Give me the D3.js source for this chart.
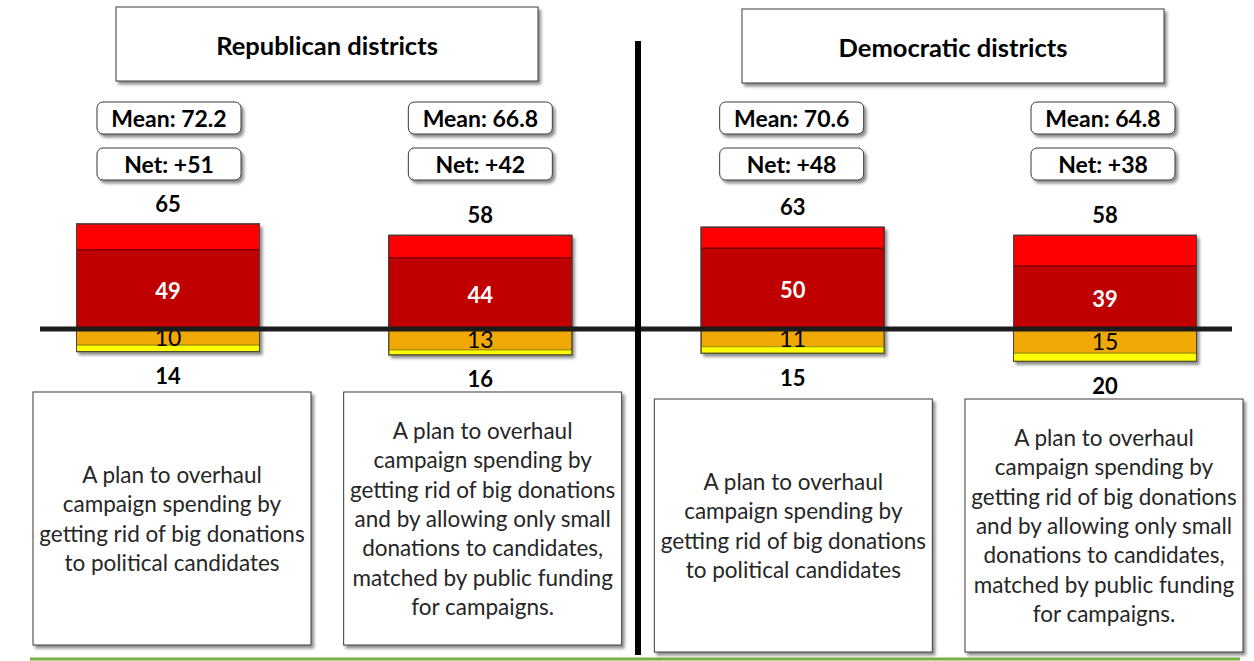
<!DOCTYPE html>
<html>
<head>
<meta charset="utf-8">
<script src="https://cdn.jsdelivr.net/npm/d3@7"></script>
<style>
  html, body { margin: 0; padding: 0; background: #fff; }
  svg { display: block; font-family: Lato, "Open Sans", sans-serif; }
</style>
</head>
<body>
<svg id="chart" width="1254" height="661"></svg>
<script>
// values
const groups = ['Republican districts', 'Democratic districts'];
const items = ['r1', 'r2', 'd1', 'd2'];
const strongSupport = [49, 44, 50, 39];
const someSupport = [16, 14, 13, 19];
const someOppose = [10, 13, 11, 15];
const strongOppose = [4, 3, 4, 5];
const means = ['72.2', '66.8', '70.6', '64.8'];
const nets = ['+51', '+42', '+48', '+38'];
const shortText = ['A plan to overhaul', 'campaign spending by', 'getting rid of big donations', 'to political candidates'];
const longText = ['A plan to overhaul', 'campaign spending by', 'getting rid of big donations',
  'and by allowing only small', 'donations to candidates,', 'matched by public funding', 'for campaigns.'];
const descriptions = [shortText, longText, shortText, longText];

const svg = d3.select('#chart');

// shadow filter
const defs = svg.append('defs');
defs.append('filter').attr('id', 'shadow')
    .attr('x', '-10%').attr('y', '-10%').attr('width', '130%').attr('height', '130%')
  .append('feDropShadow')
    .attr('dx', 2.5).attr('dy', 3).attr('stdDeviation', 1.8)
    .attr('flood-color', '#000').attr('flood-opacity', 0.45);

const x = d3.scalePoint().domain(items).range([168, 1105]);
const xPill = d3.scalePoint().domain(items).range([169, 1103]);
const xBox = d3.scalePoint().domain(items).range([172, 1104]);
const y = d3.scaleLinear().domain([-20, 65]).range([329 + 20 * 1.615, 224]);
const barW = 183;

const data = items.map((k, i) => ({
  key: k,
  s1: strongSupport[i], s2: someSupport[i],
  o1: someOppose[i], o2: strongOppose[i],
  mean: means[i], net: nets[i], text: descriptions[i],
  boxTop: i < 2 ? 392 : 399
}));

// header boxes
const headerX = [327, 953], headerTop = [7, 9];
const head = svg.selectAll('.head').data(groups).join('g').attr('class', 'head');
head.append('rect')
    .attr('x', (d, i) => headerX[i] - 211).attr('y', (d, i) => headerTop[i])
    .attr('width', 422).attr('height', 74)
    .attr('fill', '#fff').attr('stroke', '#3a3a3a').attr('stroke-width', 1)
    .attr('filter', 'url(#shadow)');
head.append('text')
    .attr('x', (d, i) => headerX[i]).attr('y', (d, i) => headerTop[i] + 38)
    .attr('text-anchor', 'middle').attr('dominant-baseline', 'central')
    .attr('font-size', 25.5).attr('font-weight', 700).attr('fill', '#000')
    .text(d => d);

// mean / net pills
const pill = svg.selectAll('.pill').data(data).join('g').attr('class', 'pill');
[['mean', 102, d => 'Mean: ' + d.mean], ['net', 148, d => 'Net: ' + d.net]].forEach(([k, top, fmt]) => {
  pill.append('rect')
      .attr('x', d => xPill(d.key) - 72).attr('y', top)
      .attr('width', 144).attr('height', 32).attr('rx', 6)
      .attr('fill', '#fff').attr('stroke', '#3a3a3a').attr('stroke-width', 1)
      .attr('filter', 'url(#shadow)');
  pill.append('text')
      .attr('x', d => xPill(d.key)).attr('y', top + 16)
      .attr('text-anchor', 'middle').attr('dominant-baseline', 'central')
      .attr('font-size', 23).attr('font-weight', 700).attr('fill', '#000')
      .text(fmt);
});

// stacked bars
const bar = svg.selectAll('.bar').data(data).join('g').attr('class', 'bar');
bar.append('rect')
    .attr('x', d => x(d.key) - barW / 2).attr('y', d => y(d.s1 + d.s2))
    .attr('width', barW).attr('height', d => y(-(d.o1 + d.o2)) - y(d.s1 + d.s2))
    .attr('fill', '#fff').attr('stroke', '#444').attr('filter', 'url(#shadow)');

const segs = [
  {lo: d => d.s1, hi: d => d.s1 + d.s2, fill: '#ff0000', stroke: '#8a0000'},
  {lo: d => 0, hi: d => d.s1, fill: '#c00000', stroke: '#6a0000'},
  {lo: d => -d.o1, hi: d => 0, fill: '#f0a804', stroke: '#a07000'},
  {lo: d => -(d.o1 + d.o2), hi: d => -d.o1, fill: '#ffff00', stroke: '#9a9a00'}
];
segs.forEach(s => {
  bar.append('rect')
      .attr('x', d => x(d.key) - barW / 2).attr('y', d => y(s.hi(d)))
      .attr('width', barW).attr('height', d => y(s.lo(d)) - y(s.hi(d)))
      .attr('fill', s.fill).attr('stroke', s.stroke).attr('stroke-width', 1);
});
bar.append('rect')
    .attr('x', d => x(d.key) - barW / 2).attr('y', d => y(d.s1 + d.s2))
    .attr('width', barW).attr('height', d => y(-(d.o1 + d.o2)) - y(d.s1 + d.s2))
    .attr('fill', 'none').attr('stroke', '#444').attr('stroke-width', 1);

// labels
bar.append('text')
    .attr('x', d => x(d.key)).attr('y', d => y(d.s1 / 2) + 1)
    .attr('text-anchor', 'middle').attr('dominant-baseline', 'central')
    .attr('font-size', 22).attr('font-weight', 700).attr('fill', '#fff')
    .text(d => d.s1);
bar.append('text')
    .attr('x', d => x(d.key)).attr('y', d => y(-d.o1 / 2))
    .attr('text-anchor', 'middle').attr('dominant-baseline', 'central')
    .attr('font-size', 23).attr('fill', '#000')
    .text(d => d.o1);
bar.append('text')
    .attr('x', d => x(d.key)).attr('y', d => y(d.s1 + d.s2) - 21)
    .attr('text-anchor', 'middle').attr('dominant-baseline', 'central')
    .attr('font-size', 22).attr('font-weight', 700).attr('fill', '#000')
    .text(d => d.s1 + d.s2);
bar.append('text')
    .attr('x', d => x(d.key)).attr('y', d => y(-(d.o1 + d.o2)) + 24)
    .attr('text-anchor', 'middle').attr('dominant-baseline', 'central')
    .attr('font-size', 22).attr('font-weight', 700).attr('fill', '#000')
    .text(d => d.o1 + d.o2);

// baseline and divider
svg.append('line')
    .attr('x1', 40).attr('x2', 1232).attr('y1', y(0)).attr('y2', y(0))
    .attr('stroke', '#1c1c1c').attr('stroke-width', 5);
svg.append('line')
    .attr('x1', 638).attr('x2', 638).attr('y1', 41).attr('y2', 655)
    .attr('stroke', '#000').attr('stroke-width', 6);

// description boxes
const desc = svg.selectAll('.desc').data(data).join('g').attr('class', 'desc');
desc.append('rect')
    .attr('x', d => xBox(d.key) - 139).attr('y', d => d.boxTop)
    .attr('width', 278).attr('height', 253)
    .attr('fill', '#fff').attr('stroke', '#3a3a3a').attr('stroke-width', 1)
    .attr('filter', 'url(#shadow)');
desc.each(function (d) {
  const g = d3.select(this);
  const lh = 29.3;
  const mid = d.boxTop + 126.5;
  g.selectAll('text').data(d.text).join('text')
      .attr('x', xBox(d.key))
      .attr('y', (t, j) => mid + (j - (d.text.length - 1) / 2) * lh)
      .attr('text-anchor', 'middle').attr('dominant-baseline', 'central')
      .attr('font-size', 22.5).attr('fill', '#262626')
      .text(t => t);
});

// bottom green rule
svg.append('line')
    .attr('x1', 30).attr('x2', 1240).attr('y1', 659).attr('y2', 659)
    .attr('stroke', '#76b043').attr('stroke-width', 3);
</script>
</body>
</html>
